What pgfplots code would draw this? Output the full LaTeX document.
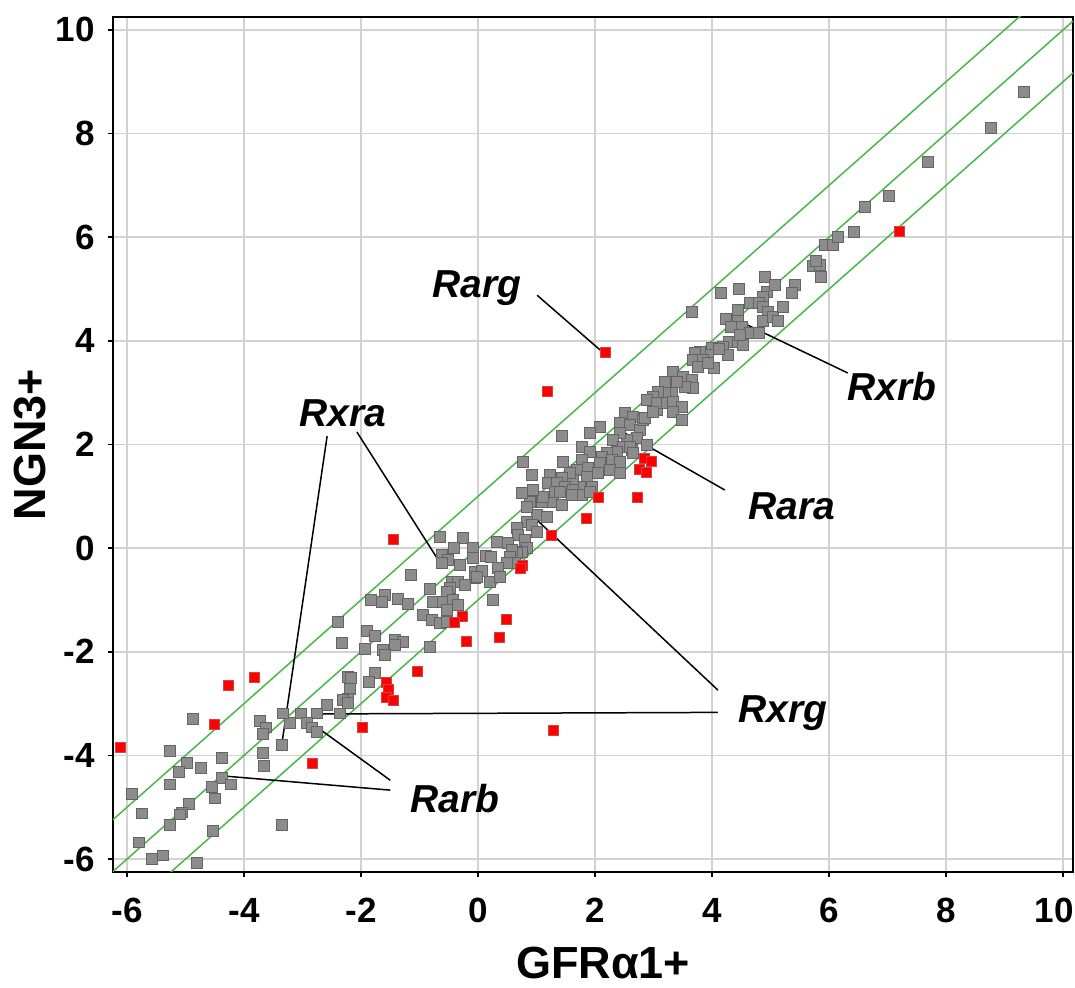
\documentclass[border=0pt]{standalone}
\usepackage{fontspec}
\setmainfont{Liberation Sans}
\usepackage{pgfplots}
\pgfplotsset{compat=1.18}
\definecolor{ptgray}{RGB}{140,140,140}
\definecolor{ptedge}{RGB}{100,100,100}
\definecolor{ptred}{RGB}{255,0,0}
\definecolor{rededge}{RGB}{205,70,70}
\definecolor{glines}{RGB}{70,185,70}
\definecolor{gridc}{RGB}{210,210,210}
\begin{document}
\begin{tikzpicture}
\begin{axis}[
  scale only axis, width=480pt, height=427.5pt,
  xmin=-6.24, xmax=10.17, ymin=-6.25, ymax=10.25,
  xtick={-6,-4,-2,0,2,4,6,8,10}, ytick={-6,-4,-2,0,2,4,6,8,10},
  xticklabels={-6,-4,-2,0,2,4,6,8,\hspace*{-9pt}10},
  yticklabels={-6,-4,-2,0,2,4,6,8,10},
  tick align=outside, xtick pos=bottom, ytick pos=left,
  major tick length=2.5pt,
  every tick/.style={black, line width=0.75pt},
  grid=major, major grid style={gridc, line width=0.75pt},
  axis line style={line width=1pt},
  axis background/.style={fill=white},
  ticklabel style={font=\fontsize{17.5}{20}\selectfont\bfseries},
  xticklabel style={anchor=north, inner sep=0pt, yshift=-10.5pt},
  yticklabel style={anchor=east, inner sep=0pt, xshift=-6.5pt},
  xlabel={GFRα1+}, ylabel={NGN3+},
  label style={font=\fontsize{22.5}{26}\selectfont\bfseries},
  xlabel style={at={(axis description cs:0.5104,-0.1245)}, anchor=base},
  ylabel style={at={(axis description cs:-0.0865,0.5)}, anchor=center},
]
% reference lines
\addplot[glines, line width=0.75pt] coordinates {(-7.5,-6.5) (9.5,10.5)};
\addplot[glines, line width=0.75pt] coordinates {(-7,-7) (11,11)};
\addplot[glines, line width=0.75pt] coordinates {(-6,-7) (12,11)};
% gray points
\addplot[only marks, mark=square*, mark size=2.7pt, mark options={fill=ptgray, draw=ptedge, line width=0.5pt}] coordinates {
(-1.83,-1.00) (-2.39,-1.43) (-2.32,-1.83) (-1.90,-1.60) (-1.76,-1.70) (-1.93,-1.95) (-2.22,-2.49) (-2.17,-2.51) (-1.76,-2.41) (-1.86,-2.59) (-2.19,-2.72) (-2.22,-2.90) (-2.31,-2.93) (-2.22,-2.99) (-2.58,-3.03) (-2.36,-3.19) (-2.75,-3.19) (-3.03,-3.19) (-3.21,-3.38) (-2.92,-3.38) (-2.84,-3.46) (-2.75,-3.55) (-3.73,-3.34) (-3.62,-3.46) (-3.68,-3.59) (-3.33,-3.19) (-3.35,-3.80) (-3.68,-3.96) (-3.66,-4.21) (-4.38,-4.05) (-4.74,-4.25) (-4.97,-4.15) (-5.11,-4.32) (-5.27,-3.92) (-5.27,-4.56) (-4.87,-3.30) (-4.38,-4.44) (-4.22,-4.56) (-4.55,-4.61) (-4.50,-4.83) (-4.94,-4.94) (-5.06,-5.10) (-5.09,-5.14) (-5.27,-5.35) (-5.91,-4.75) (-5.74,-5.12) (-5.79,-5.68) (-4.53,-5.46) (-3.35,-5.35) (-5.57,-6.00) (-5.38,-5.93) (-4.80,-6.08)
(-0.65,0.21) (-0.26,0.19) (0.32,0.12) (-0.41,0.00) (-0.09,0.00) (-0.62,-0.14) (0.14,-0.15) (0.22,-0.17) (-0.09,-0.19) (-0.51,-0.23) (-0.62,-0.29) (-0.31,-0.33) (-0.05,-0.46) (0.07,-0.44) (-0.05,-0.58) (-1.15,-0.52) (-0.82,-0.79) (-0.44,-0.66) (-0.34,-0.66) (-0.22,-0.71) (-0.48,-0.77) (-0.53,-0.85) (0.26,-1.00) (-1.37,-0.98) (-1.20,-1.08) (-1.59,-0.91) (-1.64,-1.04) (-0.77,-1.04) (-0.60,-1.04) (-0.43,-1.00) (-0.34,-1.10) (-0.53,-1.20) (-0.94,-1.29) (-0.79,-1.39) (-0.65,-1.45) (-0.53,-1.43) (-1.42,-1.78) (-1.28,-1.81) (-1.42,-1.87) (-1.62,-1.97) (-1.59,-2.07) (-0.82,-1.91) (0.21,-0.66) (-0.02,-0.56)
(0.89,0.89) (1.09,0.89) (1.28,0.89) (1.44,0.83) (1.01,0.64) (1.18,0.60) (0.84,0.50) (0.92,0.44) (1.01,0.31) (0.67,0.39) (0.68,0.25) (0.80,0.15) (0.84,0.00) (0.75,-0.08) (0.67,-0.10) (0.51,0.10) (0.58,-0.04) (0.55,-0.17) (0.63,-0.29) (0.50,-0.29) (0.34,-0.39) (0.38,-0.56)
(2.51,2.61) (2.65,2.53) (2.43,2.41) (2.60,2.37) (2.77,2.28) (2.72,2.12) (2.55,2.08) (2.43,2.22) (2.31,2.08) (2.48,1.95) (2.63,1.89) (2.38,1.85) (2.21,1.83) (2.12,1.76) (2.29,1.70) (2.43,1.66) (2.09,2.34) (1.91,2.22) (1.44,2.16) (1.78,1.95) (1.91,1.85) (1.78,1.70) (1.69,1.51) (1.88,1.54) (2.09,1.64) (2.26,1.51) (2.43,1.45) (2.05,1.45) (1.86,1.37) (1.95,1.18) (1.74,1.18) (1.62,1.31) (1.57,1.45) (1.45,1.66) (1.44,1.35) (1.23,1.41) (1.20,1.25) (1.35,1.25) (1.49,1.18) (1.62,1.12) (1.78,1.02) (1.91,1.08) (1.32,1.08) (1.11,0.98) (0.94,1.12) (0.75,1.06) (0.84,0.79) (0.92,1.41) (0.77,1.66) (1.40,1.08) (1.61,1.02) (2.60,1.95) (2.89,1.99) (2.82,2.47) (2.65,1.83) (2.85,2.51) (3.06,2.66)
(3.33,3.40) (3.50,3.30) (3.66,3.24) (3.68,3.09) (3.54,3.11) (3.40,3.20) (3.20,3.20) (3.32,2.99) (3.20,2.99) (3.08,3.01) (2.99,2.92) (2.89,2.86) (3.06,2.80) (3.23,2.80) (3.33,2.82) (3.49,2.72) (3.33,2.63) (2.99,2.63) (3.49,2.47) (4.00,3.86) (3.93,3.73) (3.79,3.78) (3.71,3.76) (3.68,3.63) (3.85,3.63) (3.76,3.49) (4.03,3.47) (3.93,3.57) (4.29,3.98) (4.44,3.98) (4.53,3.92) (4.19,3.88) (4.27,3.73) (4.12,3.84) (4.24,4.42) (4.44,4.40) (4.32,4.27) (4.51,4.27) (4.65,4.15) (4.80,4.15) (4.48,4.11) (4.65,4.73) (4.44,4.59) (3.66,4.56) (4.15,4.92) (4.46,5.00) (4.94,4.94) (4.87,4.85) (4.80,4.73) (4.87,4.65) (4.96,4.56) (4.87,4.38) (5.04,4.46) (5.13,4.38) (5.21,4.65) (4.91,5.23) (5.08,5.08) (5.42,5.08) (5.37,4.92) (5.73,5.44) (5.85,5.46) (5.86,5.23) (5.78,5.54) (5.93,5.85) (6.07,5.85) (6.15,6.00) (6.43,6.10) (6.62,6.58) (7.03,6.80) (7.69,7.45) (8.77,8.11) (9.33,8.80)
};
% red points
\addplot[only marks, mark=square*, mark size=2.5pt, mark options={fill=ptred, draw=rededge, line width=0.4pt}] coordinates {
(-6.12,-3.85) (-4.26,-2.64) (-3.83,-2.49) (-4.51,-3.40) (-2.84,-4.15) (-1.97,-3.45) (-1.56,-2.59) (-1.54,-2.72) (-1.56,-2.88) (-1.44,-2.93) (-1.03,-2.37) (-1.44,0.17) (-0.26,-1.31) (-0.41,-1.43) (-0.20,-1.80) (0.36,-1.72) (0.48,-1.37) (0.75,-0.33) (0.72,-0.40) (1.26,0.25) (1.28,-3.51) (1.86,0.58) (2.05,0.98) (2.72,0.97) (2.85,1.74) (2.96,1.68) (2.75,1.51) (2.87,1.47) (1.18,3.03) (2.17,3.78) (7.20,6.12)
};
% annotation lines
\draw[black, line width=0.75pt] (axis cs:1.01,4.88) -- (axis cs:2.09,3.82);
\draw[black, line width=0.75pt] (axis cs:6.32,3.38) -- (axis cs:4.43,4.40);
\draw[black, line width=0.75pt] (axis cs:4.22,1.12) -- (axis cs:2.48,2.24);
\draw[black, line width=0.75pt] (axis cs:-2.07,2.24) -- (axis cs:-0.68,-0.23);
\draw[black, line width=0.75pt] (axis cs:-2.58,2.16) -- (axis cs:-3.35,-3.75);
\draw[black, line width=0.75pt] (axis cs:4.10,-3.17) -- (axis cs:-2.74,-3.20);
\draw[black, line width=0.75pt] (axis cs:4.10,-2.74) -- (axis cs:1.01,0.54);
\draw[black, line width=0.75pt] (axis cs:-1.50,-4.48) -- (axis cs:-3.04,-3.22);
\draw[black, line width=0.75pt] (axis cs:-1.50,-4.67) -- (axis cs:-4.32,-4.40);
% annotation labels
\begin{scope}[every node/.style={anchor=base, inner sep=0pt, font=\fontsize{19.5}{22}\selectfont\bfseries\itshape}]
\node at (axis cs:-0.02,4.83) {Rarg};
\node at (axis cs:7.08,2.84) {Rxrb};
\node at (axis cs:5.37,0.56) {Rara};
\node at (axis cs:-2.31,2.34) {Rxra};
\node at (axis cs:5.21,-3.36) {Rxrg};
\node at (axis cs:-0.39,-5.10) {Rarb};
\end{scope}
\end{axis}
\pgfresetboundingbox
\path (-56.5pt,-58pt) rectangle (481pt,436pt);
\end{tikzpicture}
\end{document}
